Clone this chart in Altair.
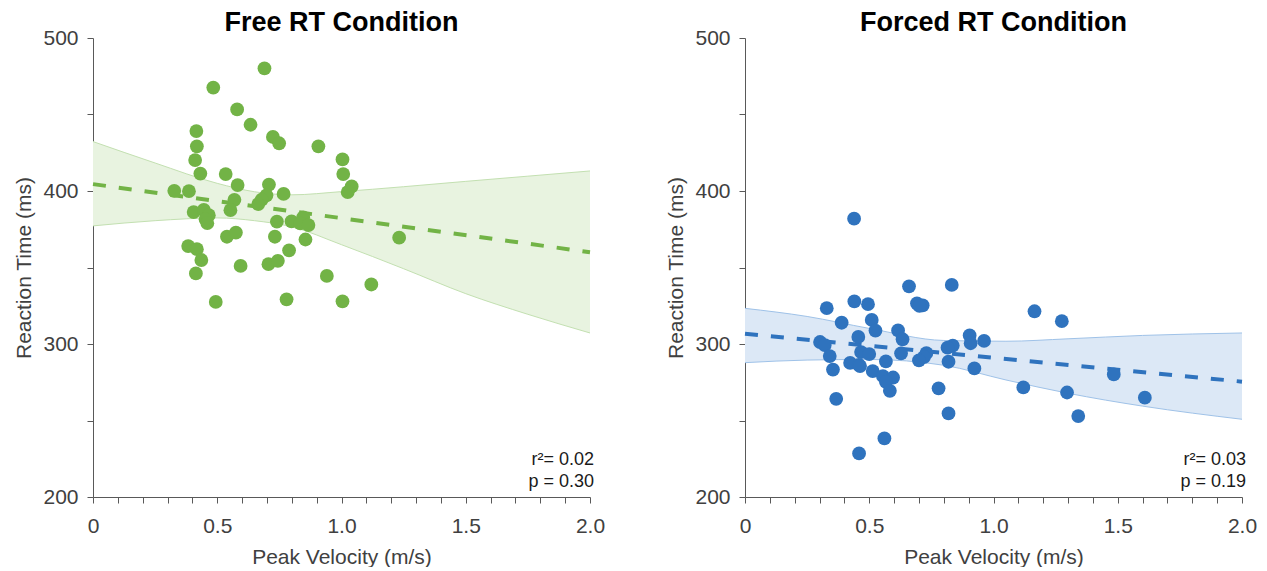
import altair as alt
import pandas as pd

FONT = "Liberation Sans"

# ---------------- data ----------------
free_vel = [0.690, 0.484, 0.580, 0.634, 0.416, 0.724, 0.749, 0.418, 0.907, 0.411,
            1.004, 0.432, 0.534, 1.007, 0.582, 0.708, 1.041, 1.025, 0.327, 0.386,
            0.767, 0.698, 0.679, 0.569, 0.665, 0.553, 0.405, 0.446, 0.466, 0.453,
            0.460, 0.740, 0.799, 0.846, 0.834, 0.867, 0.539, 0.575, 0.732, 0.855,
            1.232, 0.383, 0.418, 0.789, 0.436, 0.594, 0.706, 0.744, 0.414, 0.941,
            1.120, 0.494, 0.779, 1.004]
free_rt = [480.2, 467.6, 453.3, 443.3, 439.2, 435.3, 431.2, 429.2, 429.2, 420.2,
           420.6, 411.4, 411.1, 411.1, 403.9, 404.2, 403.0, 399.2, 400.1, 399.9,
           398.1, 397.2, 394.3, 394.2, 391.5, 387.5, 386.2, 387.6, 384.2, 381.6,
           379.0, 380.0, 380.1, 382.8, 378.9, 377.7, 370.1, 372.8, 370.1, 368.3,
           369.5, 364.0, 362.0, 361.2, 354.9, 351.0, 352.2, 354.4, 346.1, 344.5,
           338.9, 327.5, 329.2, 327.9]

forced_vel = [0.439, 0.660, 0.832, 0.440, 0.495, 0.692, 0.715, 0.702, 0.329, 1.165,
              1.275, 0.389, 0.510, 0.525, 0.616, 0.634, 0.456, 0.904, 0.908, 0.962,
              0.836, 0.815, 0.302, 0.321, 0.341, 0.467, 0.500, 0.628, 0.730, 0.720,
              0.700, 0.423, 0.458, 0.463, 0.567, 0.819, 0.354, 0.514, 0.555, 0.596,
              0.567, 0.583, 0.923, 1.484, 0.779, 1.120, 1.296, 1.609, 0.367, 0.819,
              1.341, 0.561, 0.459]
forced_rt = [381.9, 337.7, 338.6, 327.8, 326.0, 326.5, 325.3, 324.9, 323.4, 321.4,
             314.9, 313.9, 315.7, 308.8, 308.9, 303.1, 304.6, 305.6, 300.5, 302.0,
             299.0, 297.6, 301.3, 299.3, 292.1, 294.7, 293.4, 293.9, 294.0, 291.5,
             289.3, 287.6, 286.3, 285.6, 288.6, 288.4, 283.3, 282.3, 279.0, 278.1,
             275.3, 269.4, 284.0, 280.1, 271.0, 271.6, 268.3, 264.9, 264.2, 254.6,
             252.9, 238.3, 228.5]

# regression lines (end points) and confidence bands
fit_vel = [0.0, 2.0]
free_fit = [404.5, 360.0]
forced_fit = [306.7, 275.4]

free_band_vel = [0.0, 0.25, 0.5, 0.65, 0.8, 1.0, 1.25, 1.5, 1.75, 2.0]
free_upper = [432.3, 418.3, 405.0, 399.5, 397.5, 399.6, 402.8, 406.3, 409.7, 413.1]
free_lower = [377.2, 380.6, 382.4, 380.6, 376.6, 364.9, 349.2, 332.9, 319.4, 307.2]

forced_band_vel = [0.0, 0.25, 0.5, 0.8, 1.05, 1.3, 1.6, 2.0]
forced_upper = [323.3, 318.0, 310.2, 302.3, 301.8, 303.4, 305.6, 307.2]
forced_lower = [287.8, 289.5, 289.9, 286.1, 276.5, 267.8, 259.4, 250.8]

free_stats = ["r\u00b2= 0.02", "p = 0.30"]
forced_stats = ["r\u00b2= 0.03", "p = 0.19"]

x_tick_values = [round(i * 0.1, 1) for i in range(21)]
y_tick_values = [200, 250, 300, 350, 400, 450, 500]

W, H = 497, 459


def panel(title, vel, rt, band_vel, upper, lower, fit, stats, color, fill, edge):
    xs = alt.Scale(domain=[0, 2], nice=False, zero=False)
    ys = alt.Scale(domain=[200, 500], nice=False, zero=False)
    x_axis = alt.Axis(
        title="Peak Velocity (m/s)", values=x_tick_values, grid=False,
        labelExpr="datum.value == 0 ? '0' : (abs(datum.value * 2 - round(datum.value * 2)) < 0.001 ? format(datum.value, '.1f') : '')",
        tickSize=6, labelPadding=12, titlePadding=10, labelFontSize=21,
        titleFontSize=21, labelFont=FONT, titleFont=FONT, labelColor="#404040",
        titleColor="#404040", titleFontWeight="normal", domainColor="#595959",
        tickColor="#595959", labelOverlap=False, labelFlush=False)
    y_axis = alt.Axis(
        title="Reaction Time (ms)", values=y_tick_values, grid=False,
        labelExpr="datum.value % 100 == 0 ? datum.label : ''",
        tickSize=6, labelPadding=9, titlePadding=8, labelFontSize=21,
        titleFontSize=21, labelFont=FONT, titleFont=FONT, labelColor="#404040",
        titleColor="#404040", titleFontWeight="normal", domainColor="#595959",
        tickColor="#595959", labelOverlap=False)

    def X(f):
        return alt.X(f, type="quantitative", scale=xs, axis=x_axis)

    def Y(f):
        return alt.Y(f, type="quantitative", scale=ys, axis=y_axis)

    band_df = pd.DataFrame({"vel": band_vel, "upper": upper, "lower": lower})
    pts_df = pd.DataFrame({"vel": vel, "rt": rt})
    fit_df = pd.DataFrame({"vel": fit_vel, "rt": fit})

    area = alt.Chart(band_df).mark_area(color=fill, opacity=1, interpolate="monotone").encode(
        x=X("vel"), y=Y("upper"), y2="lower")
    up_line = alt.Chart(band_df).mark_line(color=edge, strokeWidth=1, interpolate="monotone").encode(
        x=X("vel"), y=Y("upper"))
    lo_line = alt.Chart(band_df).mark_line(color=edge, strokeWidth=1, interpolate="monotone").encode(
        x=X("vel"), y=Y("lower"))
    fit_line = alt.Chart(fit_df).mark_line(color=color, strokeWidth=4, strokeDash=[13, 13]).encode(
        x=X("vel"), y=Y("rt"))
    pts = alt.Chart(pts_df).mark_circle(color=color, opacity=1, size=190).encode(
        x=X("vel"), y=Y("rt"))
    txt = alt.Chart(pd.DataFrame({"k": [0]})).mark_text(
        text=stats, align="right", baseline="alphabetic", fontSize=18, lineHeight=22,
        font=FONT, color="#1a1a1a").encode(x=alt.value(W + 4), y=alt.value(427))

    return alt.layer(area, up_line, lo_line, fit_line, pts, txt).properties(
        width=W, height=H,
        title=alt.TitleParams(title, fontSize=27, font=FONT, fontWeight="bold",
                              color="black", anchor="middle", offset=-10))


left = panel("Free RT Condition", free_vel, free_rt, free_band_vel, free_upper,
             free_lower, free_fit, free_stats, "#72b346", "#e8f3e0", "#c3e0b1")
right = panel("Forced RT Condition", forced_vel, forced_rt, forced_band_vel, forced_upper,
              forced_lower, forced_fit, forced_stats, "#2f73be", "#dce8f6", "#9fc2e8")

chart = alt.hconcat(left, right, spacing=60).properties(
    padding={"left": 5, "top": 1, "right": 0, "bottom": 0}
).configure_view(stroke=None)

chart.save("out.html", embed_options={"renderer": "svg", "actions": False})
